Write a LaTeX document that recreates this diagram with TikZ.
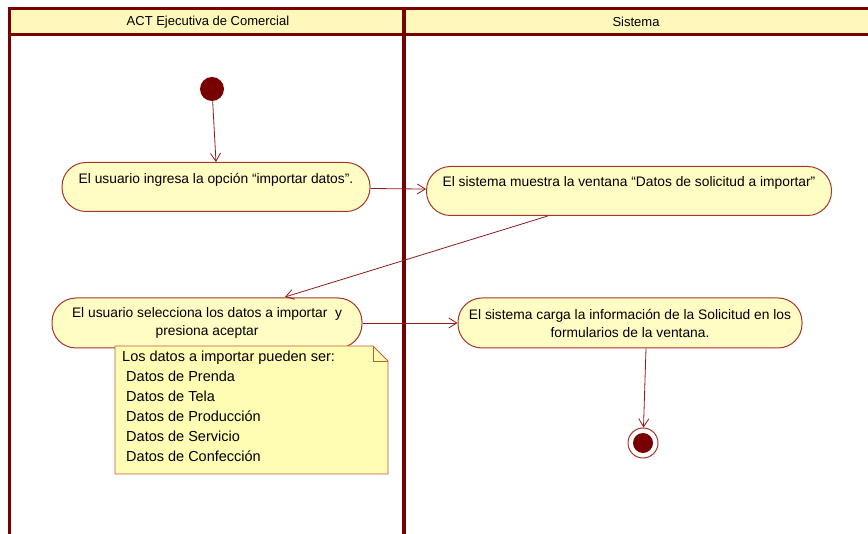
\documentclass[tikz,border=0pt]{standalone}
\usepackage{fontspec}
\setmainfont{Liberation Sans}
\usepackage{xcolor}
\usetikzlibrary{arrows.meta, positioning, calc}
\definecolor{LaneRed}{RGB}{120,0,0}
\definecolor{ActBorder}{RGB}{165,55,45}
\definecolor{ActFill}{RGB}{255,252,196}
\definecolor{NoteBorder}{RGB}{185,95,60}
\definecolor{NoteFill}{RGB}{255,252,180}
\definecolor{HeadFill}{RGB}{255,248,186}
\definecolor{FlowRed}{RGB}{145,25,25}

\begin{document}
\begin{tikzpicture}[x=1pt,y=-1pt,
        act/.style={rectangle,rounded corners=24pt,draw=ActBorder,fill=ActFill,
                    line width=1pt,font=\fontsize{13.8}{18}\selectfont,align=center,
                    inner sep=2pt},
        lane/.style={LaneRed,line width=3pt},
        hd/.style={font=\fontsize{13}{14}\selectfont},
        arr/.style={-{Straight Barb[length=8pt,width=10pt]},FlowRed,line width=0.8pt}
      ]
        \useasboundingbox (0,0) rectangle (868,534);
        % swimlanes
        \fill[HeadFill] (9,9) rectangle (870,35);
        \draw[lane] (9,536) -- (9,9) -- (870,9);
        \draw[lane] (9,35) -- (870,35);
        \draw[LaneRed,line width=4pt] (404,9) -- (404,536);
        \node[hd] (l1) at (208,22) {ACT Ejecutiva de Comercial};
        \node[hd] (l2) at (636,22) {Sistema};
        % start and end
        \node[circle,fill=LaneRed,minimum size=24pt,inner sep=0pt] (ini) at (212,89) {};
        \node[circle,draw=ActBorder,line width=1pt,fill=white,minimum size=30pt,inner sep=0pt] (fin) at (643,443) {};
        \node[circle,fill=LaneRed,minimum size=20pt,inner sep=0pt] at (fin) {};
        % activities
        \node[act,minimum width=308pt,minimum height=49pt] (a1) at (216,187)
          {El usuario ingresa la opción ``importar datos''.\\\mbox{}};
        \node[act,minimum width=405pt,minimum height=49pt] (a2) at (629,191)
          {El sistema muestra la ventana ``Datos de solicitud a importar''\\\mbox{}};
        \node[act,minimum width=310pt,minimum height=50pt] (a3) at (207,323)
          {El usuario selecciona los datos a importar\ \ y\\presiona aceptar};
        \node[act,minimum width=344pt,minimum height=50pt] (a4) at (630,323)
          {El sistema carga la información de la Solicitud en los\\formularios de la ventana.};
        % note
        \coordinate (n1) at (115,346);
        \coordinate (n2) at (388,474);
        \draw[NoteBorder,fill=NoteFill,line width=0.8pt]
          (n1) -- (373,346) -- (388,361) -- (n2) -- (115,474) -- cycle;
        \draw[NoteBorder,line width=0.8pt] (373,346) -- (373,361) -- (388,361);
        \node[anchor=north west,align=left,inner sep=0pt,font=\fontsize{14.5}{20}\selectfont]
          (nt) at ($(n1)+(7,5)$) {Los datos a importar pueden ser:\\
            \ Datos de Prenda\\ \ Datos de Tela\\ \ Datos de Producción\\
            \ Datos de Servicio\\ \ Datos de Confección};
        % flows
        \draw[arr] (ini) -- (a1.north);
        \draw[arr] (a1) -- (a2);
        \draw[arr] ($(a2.south west)!0.3!(a2.south east)$) -- (285,297);
        \draw[arr] (a3) -- (a4);
        \draw[arr] ([xshift=3pt]fin |- a4.south) -- (fin);
      \end{tikzpicture}
\end{document}
